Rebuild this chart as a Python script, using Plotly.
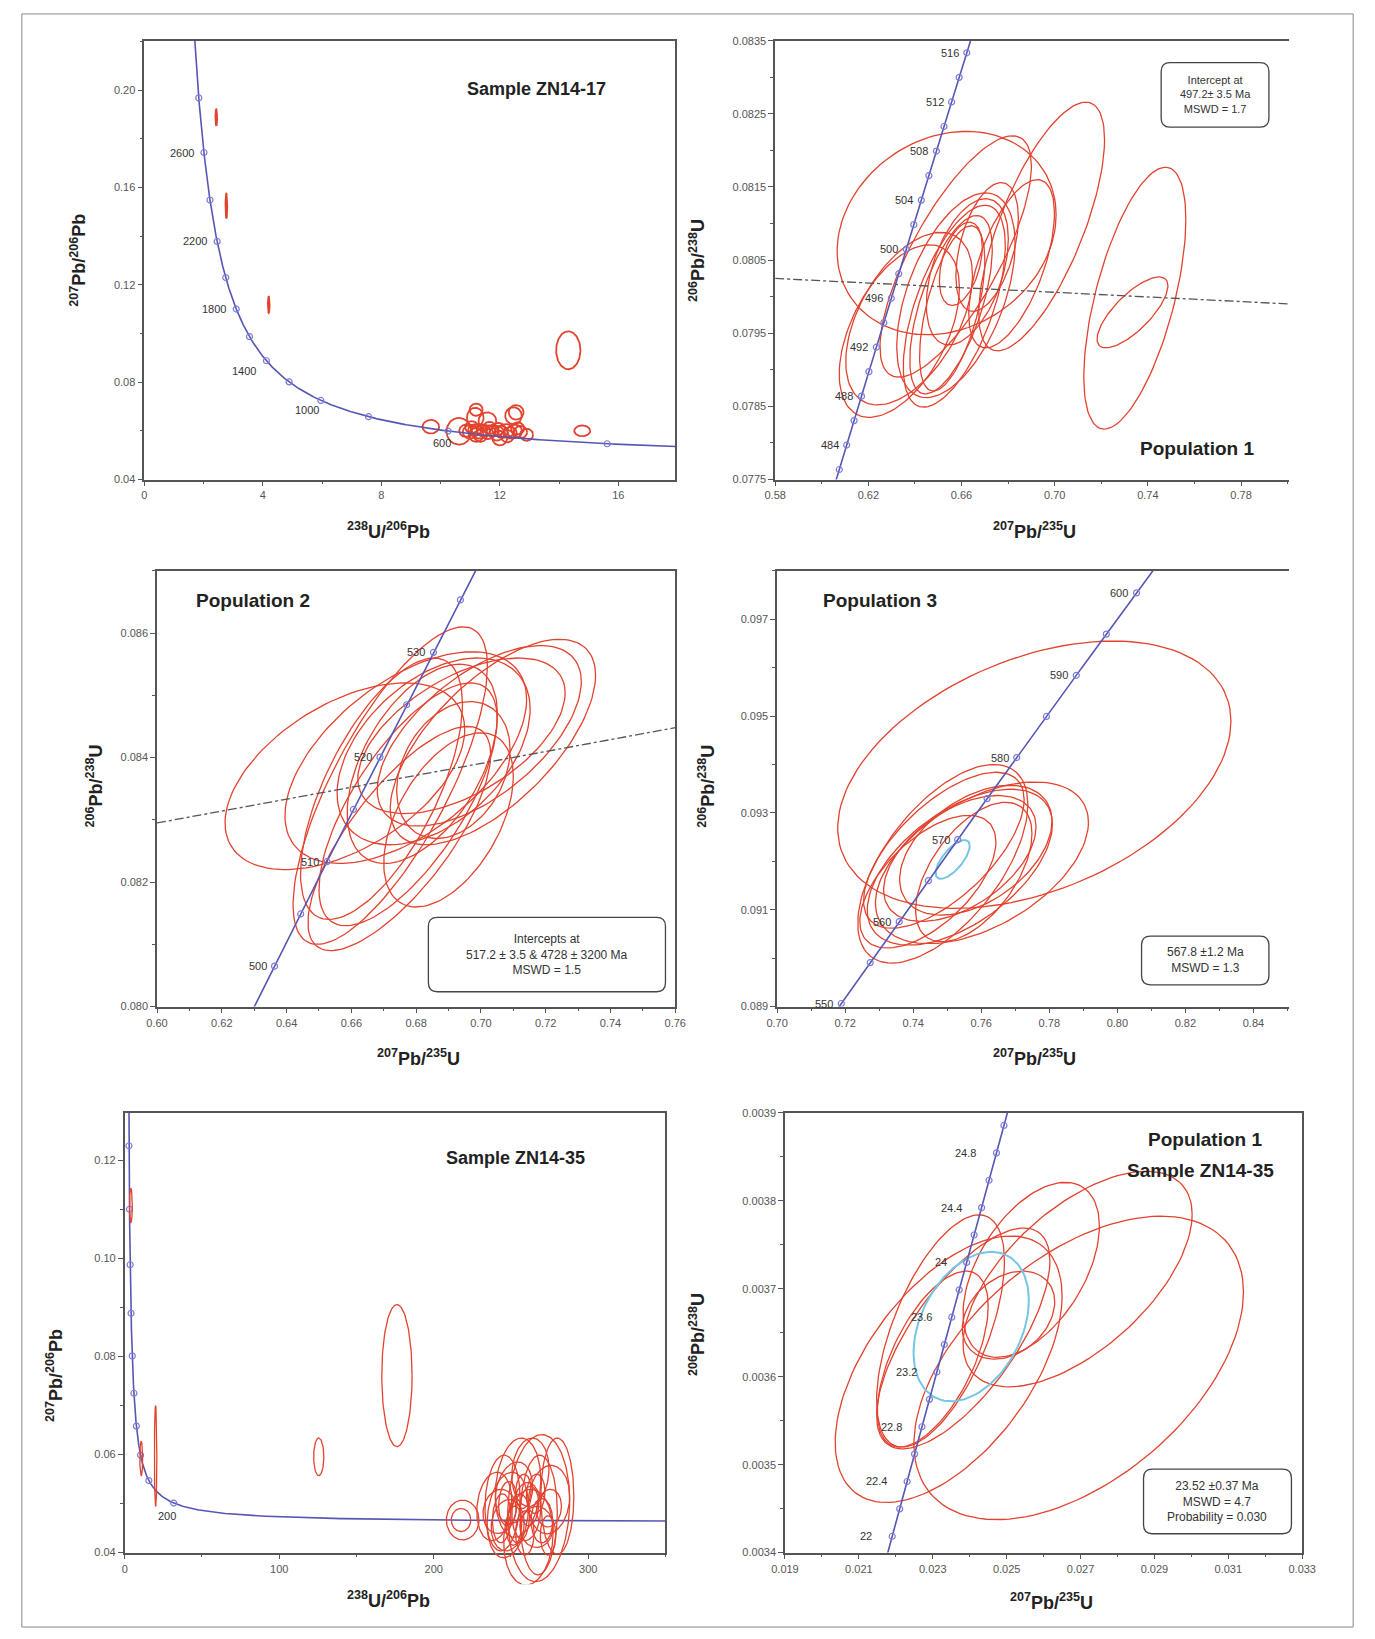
import numpy as np
import plotly.graph_objects as go

W, H = 1375, 1639
FONT = "Liberation Sans, Arial, sans-serif"
RED = "#e2432f"
CYAN = "#74c6e4"
CONC = "#5656b4"
MARK = "#7b7bd8"
AXC = "#555555"

# decay constants (concordia model)
L238 = 1.55125e-10
L235 = 9.8485e-10
U85 = 137.88

# ---------------- DATA ----------------
# Panel 1 (Tera-Wasserburg, sample ZN14-17)
p1_marker_ages = [400, 600, 800, 1000, 1200, 1400, 1600, 1800, 2000, 2200, 2400, 2600, 2800]
p1_label_ages = [600, 1000, 1400, 1800, 2200, 2600]
p1_cx = [2.43, 2.77, 4.20, 14.31, 14.78, 9.67, 10.62, 11.17, 11.58, 12.46, 12.55,
         10.85, 11.00, 11.15, 11.30, 11.45, 11.60, 11.75, 11.90, 12.05, 12.20, 12.35, 12.50, 12.70,
         12.00, 12.90, 11.20, 11.05, 11.35, 11.65, 11.95, 12.25, 12.60, 11.20]
p1_cy = [0.1888, 0.1524, 0.1118, 0.0931, 0.0600, 0.0617, 0.0598, 0.0655, 0.0641, 0.0662, 0.0676,
         0.0600, 0.0596, 0.0603, 0.0598, 0.0601, 0.0594, 0.0600, 0.0590, 0.0596, 0.0600, 0.0592, 0.0598, 0.0595,
         0.0570, 0.0584, 0.0583, 0.0615, 0.0580, 0.0612, 0.0608, 0.0578, 0.0610, 0.0687]
p1_sx = [0.03, 0.03, 0.03, 0.41, 0.27, 0.28, 0.42, 0.28, 0.30, 0.28, 0.25,
         0.22, 0.25, 0.22, 0.28, 0.22, 0.25, 0.22, 0.25, 0.22, 0.28, 0.22, 0.25, 0.22,
         0.25, 0.22, 0.25, 0.22, 0.22, 0.22, 0.22, 0.22, 0.22, 0.22]
p1_sy = [0.0034, 0.0051, 0.0034, 0.0078, 0.0022, 0.0028, 0.0055, 0.0040, 0.0035, 0.0035, 0.0030,
         0.0025, 0.0028, 0.0024, 0.0030, 0.0025, 0.0028, 0.0024, 0.0030, 0.0025, 0.0028, 0.0024, 0.0028, 0.0025,
         0.0030, 0.0025, 0.0028, 0.0025, 0.0025, 0.0025, 0.0025, 0.0025, 0.0025, 0.0025]
p1_rho = [0.0] * 34

# Panel 2 (Population 1, Wetherill)
p2_marker_ages = [482, 484, 486, 488, 490, 492, 494, 496, 498, 500, 502, 504, 506, 508, 510, 512, 514, 516]
p2_label_ages = [484, 488, 492, 496, 500, 504, 508, 512, 516]
p2_cx = [0.6536, 0.6944, 0.6575, 0.6815, 0.6576, 0.6569, 0.6555, 0.6560, 0.6597, 0.6625, 0.6710,
         0.6333, 0.6375, 0.7344, 0.7334]
p2_cy = [0.08087, 0.08096, 0.08055, 0.08045, 0.08002, 0.07987, 0.07989, 0.07984, 0.08045, 0.08034, 0.08068,
         0.07953, 0.07970, 0.07998, 0.079785]
p2_sx = [0.0470, 0.0270, 0.0325, 0.0184, 0.0254, 0.0219, 0.0177, 0.0140, 0.0092, 0.0176, 0.0134,
         0.0258, 0.0272, 0.0219, 0.0152]
p2_sy = [0.00139, 0.00170, 0.00165, 0.00115, 0.00140, 0.00138, 0.00122, 0.00113, 0.00057, 0.00100, 0.00088,
         0.00118, 0.00118, 0.00179, 0.000485]
p2_rho = [0.18, 0.70, 0.75, 0.60, 0.50, 0.60, 0.62, 0.58, 0.40, 0.45, 0.45,
          0.50, 0.50, 0.60, 0.75]
p2_discordia_x = [0.58, 0.801]
p2_discordia_y = [0.08025, 0.07990]

# Panel 3 (Population 2)
p3_marker_ages = [500, 505, 510, 515, 520, 525, 530, 535]
p3_label_ages = [500, 510, 520, 530]
p3_cx = [0.6580, 0.6768, 0.6720, 0.6775, 0.7037, 0.6995, 0.6940, 0.6854, 0.6819, 0.6915, 0.6748, 0.6693, 0.6900]
p3_cy = [0.08370, 0.08400, 0.08355, 0.08325, 0.08425, 0.08435, 0.08435, 0.08410, 0.08390, 0.08380, 0.08270, 0.08350, 0.08300]
p3_sx = [0.0370, 0.0373, 0.0300, 0.0275, 0.0317, 0.0315, 0.0320, 0.0298, 0.0232, 0.0175, 0.0282, 0.0250, 0.0200]
p3_sy = [0.00150, 0.00170, 0.00255, 0.00195, 0.00165, 0.00145, 0.00125, 0.00150, 0.00160, 0.00110, 0.00180, 0.00210, 0.00140]
p3_rho = [0.50, 0.55, 0.75, 0.70, 0.65, 0.60, 0.55, 0.45, 0.50, 0.30, 0.75, 0.65, 0.50]
p3_discordia_x = [0.60, 0.76]
p3_discordia_y = [0.08295, 0.08448]

# Panel 4 (Population 3)
p4_marker_ages = [550, 555, 560, 565, 570, 575, 580, 585, 590, 595, 600]
p4_label_ages = [550, 560, 570, 580, 590, 600]
p4_cx = [0.7756, 0.7487, 0.7602, 0.7537, 0.7490, 0.7537, 0.7443, 0.7584, 0.7578]
p4_cy = [0.09379, 0.09195, 0.09197, 0.09188, 0.09223, 0.09206, 0.09158, 0.09223, 0.09178]
p4_sx = [0.0578, 0.0250, 0.0313, 0.0272, 0.0236, 0.0224, 0.0200, 0.0224, 0.0171]
p4_sy = [0.00276, 0.00205, 0.00167, 0.00161, 0.00161, 0.00130, 0.00137, 0.00134, 0.00144]
p4_rho = [0.40, 0.60, 0.50, 0.55, 0.65, 0.50, 0.60, 0.45, 0.55]
p4_mean = [0.7516, 0.09204, 0.0050, 0.00040, 0.70]   # cx, cy, sx, sy, rho

# Panel 5 (Tera-Wasserburg, sample ZN14-35)
p5_marker_ages = [200, 400, 600, 800, 1000, 1200, 1400, 1600, 1800, 2000]
p5_label_ages = [200]
p5_cx = [244.55, 254.6, 267.95, 267.95, 280.0, 247.95, 261.3, 239.25, 259.95, 274.65, 247.9, 266.6,
         274.65, 251.95, 242.6, 262.6, 218.75, 217.7, 176.2, 125.6, 4.0, 10.7, 20.0,
         248.0, 255.0, 262.0, 270.0, 252.0, 259.0, 266.0, 244.0, 274.0, 258.0]
p5_cy = [0.050115, 0.05325, 0.049065, 0.04767, 0.051505, 0.04767, 0.043135, 0.049415, 0.04837, 0.050805,
         0.04558, 0.04523, 0.049065, 0.052205, 0.0484, 0.056385, 0.04665, 0.04665, 0.0761, 0.05953, 0.1108, 0.0592, 0.0597,
         0.0500, 0.0470, 0.0495, 0.0465, 0.0455, 0.0440, 0.0520, 0.0470, 0.0435, 0.0525]
p5_sx = [11.35, 14.7, 20.05, 12.05, 10.7, 13.35, 16.0, 11.35, 9.35, 13.35, 10.7, 10.7,
         8.05, 12.05, 10.7, 12.0, 10.55, 6.3, 9.8, 3.3, 0.9, 0.9, 0.8,
         6.0, 7.0, 6.0, 7.0, 5.0, 6.0, 6.0, 6.0, 5.0, 5.0]
p5_sy = [0.009765, 0.01011, 0.014995, 0.01221, 0.011855, 0.00872, 0.009765, 0.006975, 0.00593, 0.006975,
         0.00523, 0.00418, 0.003835, 0.006275, 0.0045, 0.006975, 0.00405, 0.00235, 0.01448, 0.00384, 0.0035, 0.0035, 0.0103,
         0.0045, 0.0050, 0.0040, 0.0045, 0.0040, 0.0045, 0.0040, 0.0050, 0.0040, 0.0035]
p5_rho = [0.10, 0.15, 0.10, 0.05, 0.0, 0.20, 0.10, 0.15, 0.10, 0.10, 0.10, 0.0,
          0.10, 0.20, 0.10, 0.10, 0.0, 0.0, 0.0, 0.0, 0.0, 0.0, 0.0,
          0.10, 0.10, 0.10, 0.0, 0.10, 0.0, 0.10, 0.10, 0.0, 0.10]

# Panel 6 (Population 1, sample ZN14-35)
p6_marker_ages = [22.0, 22.2, 22.4, 22.6, 22.8, 23.0, 23.2, 23.4, 23.6, 23.8, 24.0, 24.2, 24.4, 24.6, 24.8, 25.0]
p6_label_ages = [22.0, 22.4, 22.8, 23.2, 23.6, 24.0, 24.4, 24.8]
p6_label_text = ["22", "22.4", "22.8", "23.2", "23.6", "24", "24.4", "24.8"]
p6_cx = [0.02695, 0.02692, 0.025665, 0.02321, 0.02343, 0.02505, 0.023825, 0.02300]
p6_cy = [0.003610, 0.003711, 0.0037215, 0.003652, 0.0036085, 0.003670, 0.0036435, 0.003620]
p6_sx = [0.00446, 0.00310, 0.001845, 0.00173, 0.00307, 0.00125, 0.002345, 0.00150]
p6_sy = [0.0001725, 0.0001225, 0.0000995, 0.000132, 0.0001515, 0.000050, 0.0001255, 0.000100]
p6_rho = [0.50, 0.60, 0.50, 0.60, 0.55, 0.30, 0.70, 0.60]
p6_mean = [0.02404, 0.003657, 0.00156, 0.000085, 0.35]

# ---------------- LAYOUT GEOMETRY (pixels) ----------------
# (left, top, right, bottom)
boxes = {
    1: (133, 35, 675, 477),
    2: (777, 35, 1302, 477),
    3: (146, 569, 675, 1008),
    4: (779, 569, 1302, 1008),
    5: (113, 1115, 665, 1558),
    6: (787, 1115, 1315, 1558),
}
ranges = {
    1: ([0, 17.92], [0.04, 0.2203]),
    2: ([0.58, 0.8008], [0.0775, 0.0835]),
    3: ([0.60, 0.76], [0.080, 0.087]),
    4: ([0.70, 0.8506], [0.089, 0.098]),
    5: ([0, 350], [0.04, 0.1297]),
    6: ([0.019, 0.033], [0.0034, 0.0039]),
}
ticks = {  # xdtick, xtick0, xfmt, xminor, ydtick, ytick0, yfmt, yminor
    1: (4, 0, "d", 2, 0.04, 0.04, ".2f", 0.02),
    2: (0.04, 0.58, ".2f", 0.02, 0.001, 0.0775, ".4f", 0.0005),
    3: (0.02, 0.60, ".2f", 0.01, 0.002, 0.080, ".3f", 0.001),
    4: (0.02, 0.70, ".2f", 0.01, 0.002, 0.089, ".3f", 0.001),
    5: (100, 0, "d", 50, 0.02, 0.04, ".2f", 0.01),
    6: (0.002, 0.019, ".3f", 0.001, 0.0001, 0.0034, ".4f", 0.00005),
}


def dom(b):
    l, t, r, bt = b
    return [l / W, r / W], [1 - bt / H, 1 - t / H]


def wetherill(t_ma):
    t = np.asarray(t_ma, float) * 1e6
    return np.expm1(L235 * t), np.expm1(L238 * t)


def tera(t_ma):
    x75, y68 = wetherill(t_ma)
    return 1 / y68, x75 / y68 / U85


def ellipses(cx, cy, sx, sy, rho, n=120):
    xs, ys = [], []
    t = np.linspace(0, 2 * np.pi, n)
    for a, b, c, d, r in zip(cx, cy, sx, sy, rho):
        xs += list(a + c * np.cos(t)) + [None]
        ys += list(b + d * (r * np.cos(t) + np.sqrt(1 - r * r) * np.sin(t))) + [None]
    return xs, ys


fig = go.Figure()
layout = dict(width=W, height=H, margin=dict(l=0, r=0, t=0, b=0), autosize=False,
              paper_bgcolor="white", plot_bgcolor="rgba(0,0,0,0)", showlegend=False,
              font=dict(family=FONT, size=11))

for i in range(1, 7):
    xd, yd = dom(boxes[i])
    xr, yr = ranges[i]
    xdt, xt0, xf, xm, ydt, yt0, yf, ym = ticks[i]
    sfx = "" if i == 1 else str(i)
    mirror_y = i not in (2, 4)
    common = dict(showgrid=False, zeroline=False, showline=True, linecolor=AXC, linewidth=1.5,
                  ticks="outside", ticklen=5, tickwidth=1, tickcolor=AXC,
                  tickfont=dict(size=11, color="#555", family=FONT))
    layout["xaxis" + sfx] = dict(domain=xd, range=xr, dtick=xdt, tick0=xt0, tickformat=xf,
                                 anchor="y" + sfx, mirror=True,
                                 minor=dict(dtick=xm, tick0=xt0, ticks="outside", ticklen=3, tickcolor=AXC),
                                 **common)
    layout["yaxis" + sfx] = dict(domain=yd, range=yr, dtick=ydt, tick0=yt0, tickformat=yf,
                                 anchor="x" + sfx, mirror=mirror_y,
                                 minor=dict(dtick=ym, tick0=yt0, ticks="outside", ticklen=3, tickcolor=AXC),
                                 **common)

# overlay axes for panel 5 ellipses (they run past the bottom axis)
l5, t5, r5, b5 = boxes[5]
ext = 32
yr5 = ranges[5][1]
ppu = (b5 - t5) / (yr5[1] - yr5[0])
layout["xaxis7"] = dict(domain=[l5 / W, r5 / W], range=ranges[5][0], visible=False, anchor="y7")
layout["yaxis7"] = dict(domain=[1 - (b5 + ext) / H, 1 - t5 / H], range=[yr5[0] - ext / ppu, yr5[1]],
                        visible=False, anchor="x7")

annotations = []
shapes = []


def add_conc(i, kind, age_lo, age_hi, marker_ages, label_ages, dx, dy, label_text=None, logspace=False):
    sfx = "" if i == 1 else str(i)
    if logspace:
        ages = np.geomspace(age_lo, age_hi, 600)
    else:
        ages = np.linspace(age_lo, age_hi, 400)
    f = tera if kind == "tw" else (lambda a: wetherill(a))
    cx, cy = f(ages)
    fig.add_trace(go.Scatter(x=cx, y=cy, mode="lines", line=dict(color=CONC, width=1.6),
                             xaxis="x" + sfx, yaxis="y" + sfx, hoverinfo="skip"))
    mx, my = f(marker_ages)
    fig.add_trace(go.Scatter(x=mx, y=my, mode="markers",
                             marker=dict(symbol="circle-open", size=6, color=MARK, line=dict(width=1.2)),
                             xaxis="x" + sfx, yaxis="y" + sfx, hoverinfo="skip", cliponaxis=True))
    lx, ly = f(label_ages)
    for k, a in enumerate(label_ages):
        t = label_text[k] if label_text else str(a)
        ddx = dx[k] if isinstance(dx, list) else dx
        ddy = dy[k] if isinstance(dy, list) else dy
        annotations.append(dict(x=lx[k], y=ly[k], xref="x" + sfx, yref="y" + sfx, text=t,
                                showarrow=False, xanchor="right", yanchor="middle",
                                xshift=ddx, yshift=ddy, font=dict(size=11, color="#333", family=FONT)))


def add_ell(i, cx, cy, sx, sy, rho, color=RED, width=1.3, axis=None):
    sfx = "" if i == 1 else str(i)
    ax = axis if axis else sfx
    x, y = ellipses(cx, cy, sx, sy, rho)
    fig.add_trace(go.Scatter(x=x, y=y, mode="lines", line=dict(color=color, width=width),
                             xaxis="x" + ax, yaxis="y" + ax, hoverinfo="skip", connectgaps=False))


# panel 1
add_ell(1, p1_cx, p1_cy, p1_sx, p1_sy, p1_rho, width=1.8)
add_conc(1, "tw", 330, 3300, p1_marker_ages, p1_label_ages,
         [5, 0, -8, -8, -8, -8], [-12, -10, -10, 0, 0, 0], logspace=True)
# panel 2
add_ell(2, p2_cx, p2_cy, p2_sx, p2_sy, p2_rho)
fig.add_trace(go.Scatter(x=p2_discordia_x, y=p2_discordia_y, mode="lines",
                         line=dict(color="#555", width=1.3, dash="dashdot"), xaxis="x2", yaxis="y2"))
add_conc(2, "w", 480.5, 517.5, p2_marker_ages, p2_label_ages, -6, 0)
# panel 3
add_ell(3, p3_cx, p3_cy, p3_sx, p3_sy, p3_rho)
fig.add_trace(go.Scatter(x=p3_discordia_x, y=p3_discordia_y, mode="lines",
                         line=dict(color="#555", width=1.3, dash="dashdot"), xaxis="x3", yaxis="y3"))
add_conc(3, "w", 494, 541, p3_marker_ages, p3_label_ages, -6, 0)
# panel 4
add_ell(4, p4_cx, p4_cy, p4_sx, p4_sy, p4_rho)
add_ell(4, [p4_mean[0]], [p4_mean[1]], [p4_mean[2]], [p4_mean[3]], [p4_mean[4]], color=CYAN, width=2)
add_conc(4, "w", 549, 607, p4_marker_ages, p4_label_ages, -6, 0)
# panel 5
add_ell(5, p5_cx, p5_cy, p5_sx, p5_sy, p5_rho, width=1.3, axis="7")
add_conc(5, "tw", 15, 2600, p5_marker_ages, p5_label_ages, 4, -13, logspace=True)
# panel 6
add_ell(6, p6_cx, p6_cy, p6_sx, p6_sy, p6_rho)
add_ell(6, [p6_mean[0]], [p6_mean[1]], [p6_mean[2]], [p6_mean[3]], [p6_mean[4]], color=CYAN, width=2)
add_conc(6, "w", 21.8, 25.3, p6_marker_ages, p6_label_ages, -18, 0, label_text=p6_label_text)


def P(x, y):
    return x / W, 1 - y / H


def txt(x, y, s, size, bold=False, angle=0, color="#222"):
    px, py = P(x, y)
    annotations.append(dict(x=px, y=py, xref="paper", yref="paper",
                            text=("<b>%s</b>" % s) if bold else s, showarrow=False,
                            xanchor="center", yanchor="middle", textangle=angle,
                            font=dict(size=size, color=color, family=FONT)))


# panel titles
txt(533, 84, "Sample ZN14-17", 18, True)
txt(1208, 446, "Population 1", 19, True)
txt(244, 599, "Population 2", 19, True)
txt(884, 599, "Population 3", 19, True)
txt(512, 1161, "Sample ZN14-35", 18, True)
txt(1216, 1142, "Population 1", 19, True)
txt(1211, 1173, "Sample ZN14-35", 19, True)

# axis titles
TW_X = "<sup>238</sup>U/<sup>206</sup>Pb"
TW_Y = "<sup>207</sup>Pb/<sup>206</sup>Pb"
WE_X = "<sup>207</sup>Pb/<sup>235</sup>U"
WE_Y = "<sup>206</sup>Pb/<sup>238</sup>U"
txt(382, 528, TW_X, 18, True)
txt(65, 256, TW_Y, 18, True, -90)
txt(1042, 528, WE_X, 18, True)
txt(697, 256, WE_Y, 18, True, -90)
txt(413, 1059, WE_X, 18, True)
txt(82, 786, WE_Y, 18, True, -90)
txt(1042, 1059, WE_X, 18, True)
txt(707, 786, WE_Y, 18, True, -90)
txt(382, 1605, TW_X, 18, True)
txt(42, 1380, TW_Y, 18, True, -90)
txt(1059, 1607, WE_X, 18, True)
txt(697, 1338, WE_Y, 18, True, -90)


def rbox(x0, y0, x1, y1, r=9):
    def Q(x, y):
        a, b = P(x, y)
        return "%.5f,%.5f" % (a, b)
    return ("M %s L %s Q %s %s L %s Q %s %s L %s Q %s %s L %s Q %s %s Z" % (
        Q(x0 + r, y0), Q(x1 - r, y0), Q(x1, y0), Q(x1, y0 + r), Q(x1, y1 - r), Q(x1, y1), Q(x1 - r, y1),
        Q(x0 + r, y1), Q(x0, y1), Q(x0, y1 - r), Q(x0, y0 + r), Q(x0, y0), Q(x0 + r, y0)))


result_boxes = [
    ((1171, 57, 1281, 122), "Intercept at<br>497.2± 3.5 Ma<br>MSWD = 1.7", 11),
    ((423, 918, 665, 993), "Intercepts at<br>517.2 ± 3.5 & 4728 ± 3200 Ma<br>MSWD = 1.5", 12),
    ((1151, 937, 1281, 986), "567.8 ±1.2 Ma<br>MSWD = 1.3", 12),
    ((1153, 1474, 1304, 1539), "23.52 ±0.37 Ma<br>MSWD = 4.7<br>Probability = 0.030", 12),
]
for (x0, y0, x1, y1), s, fs in result_boxes:
    shapes.append(dict(type="path", path=rbox(x0, y0, x1, y1), xref="paper", yref="paper",
                       line=dict(color="#444", width=1.3), fillcolor="white", layer="above"))
    txt((x0 + x1) / 2, (y0 + y1) / 2, s, fs, False, 0, "#333")

# outer frame
fx0, fy0 = P(8, 8)
fx1, fy1 = P(1367, 1633)
shapes.append(dict(type="rect", xref="paper", yref="paper", x0=fx0, y0=fy1, x1=fx1, y1=fy0,
                   line=dict(color="#888", width=1)))

layout["annotations"] = annotations
layout["shapes"] = shapes
fig.update_layout(**layout)
fig.write_html("out.html")
